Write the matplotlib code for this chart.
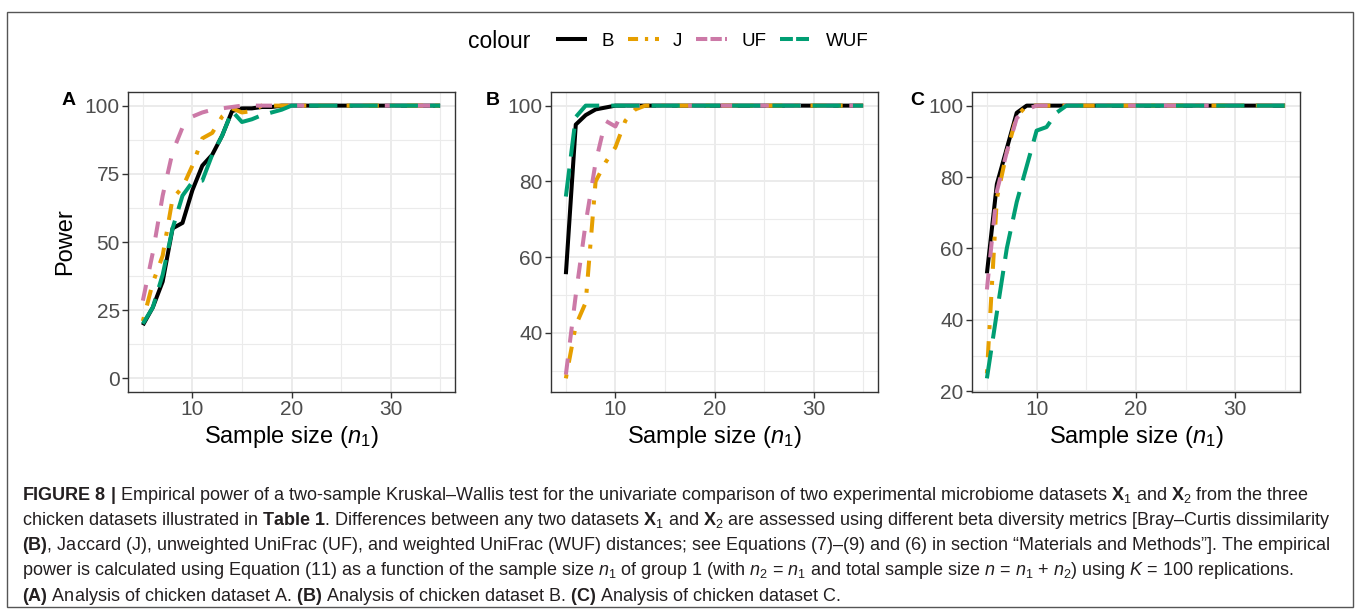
import matplotlib
matplotlib.use("Agg")
import matplotlib.pyplot as plt
from matplotlib import font_manager
from matplotlib.lines import Line2D
from matplotlib.patches import Rectangle

# sample size n1 of group 1
n1 = [5, 6, 7, 8, 9, 10, 11, 12, 13, 14, 15, 16, 17, 18, 19, 20,
      21, 22, 23, 24, 25, 26, 27, 28, 29, 30, 31, 32, 33, 34, 35]

# panel A: chicken dataset A (power, %)
a_B = [19.5, 26, 35.5, 55, 57, 69, 78, 82, 89, 98, 99, 99, 99.5, 99.5, 100, 100,
       100, 100, 100, 100, 100, 100, 100, 100, 100, 100, 100, 100, 100, 100, 100]
a_J = [21, 35, 45, 66, 70, 78, 88, 90, 96, 99, 97.5, 98, 100, 100, 100, 100,
       100, 100, 100, 100, 100, 100, 100, 100, 100, 100, 100, 100, 100, 100, 100]
a_UF = [28.5, 46, 67, 83, 92, 96, 97.5, 98.5, 99, 99.5, 100, 100, 100, 100, 100, 100,
        100, 100, 100, 100, 100, 100, 100, 100, 100, 100, 100, 100, 100, 100, 100]
a_WUF = [20, 26, 38, 55, 67, 72, 72.5, 82, 89, 98, 94, 95, 96.5, 97.5, 98.5, 100,
         100, 100, 100, 100, 100, 100, 100, 100, 100, 100, 100, 100, 100, 100, 100]

# panel B: chicken dataset B
b_B = [55.5, 95, 97.5, 99, 99.5, 100, 100, 100, 100, 100, 100, 100, 100, 100, 100, 100,
       100, 100, 100, 100, 100, 100, 100, 100, 100, 100, 100, 100, 100, 100, 100]
b_J = [28, 42, 48, 80, 85, 89, 96, 99, 100, 100, 100, 100, 100, 100, 100, 100,
       100, 100, 100, 100, 100, 100, 100, 100, 100, 100, 100, 100, 100, 100, 100]
b_UF = [29, 50, 69, 85, 96, 94.5, 100, 100, 100, 100, 100, 100, 100, 100, 100, 100,
        100, 100, 100, 100, 100, 100, 100, 100, 100, 100, 100, 100, 100, 100, 100]
b_WUF = [76, 97, 100, 100, 100, 100, 100, 100, 100, 100, 100, 100, 100, 100, 100, 100,
         100, 100, 100, 100, 100, 100, 100, 100, 100, 100, 100, 100, 100, 100, 100]

# panel C: chicken dataset C
c_B = [53, 78, 88, 98, 100, 100, 100, 100, 100, 100, 100, 100, 100, 100, 100, 100,
       100, 100, 100, 100, 100, 100, 100, 100, 100, 100, 100, 100, 100, 100, 100]
c_J = [25, 74, 87, 97, 100, 100, 100, 100, 100, 100, 100, 100, 100, 100, 100, 100,
       100, 100, 100, 100, 100, 100, 100, 100, 100, 100, 100, 100, 100, 100, 100]
c_UF = [48.5, 76, 87, 96.5, 99, 100, 100, 100, 100, 100, 100, 100, 100, 100, 100, 100,
        100, 100, 100, 100, 100, 100, 100, 100, 100, 100, 100, 100, 100, 100, 100]
c_WUF = [23.6, 42, 60, 73, 83, 93, 94, 98, 100, 100, 100, 100, 100, 100, 100, 100,
         100, 100, 100, 100, 100, 100, 100, 100, 100, 100, 100, 100, 100, 100, 100]

metrics = ["B", "J", "UF", "WUF"]

COLOURS = {"B": "#000000", "J": "#E69F00", "UF": "#CC79A7", "WUF": "#009E73"}
# ggplot linetypes: solid, dotdash, dashed, longdash
DASHES = {"B": "-", "J": (0, (1, 3, 4, 3)), "UF": (0, (4, 4)), "WUF": (0, (7, 3))}
# legend keys are drawn shorter, starting on a dash
KEY_DASHES = {"B": "-", "J": (0, (2.5, 1.7, 0.8, 1.7)), "UF": (0, (2.8, 0.8)),
              "WUF": (0, (3.2, 0.8))}
LW = 2.9

W, H = 1360, 610


def fig_box(left, top, right, bottom):
    return [left / W, 1 - bottom / H, (right - left) / W, (bottom - top) / H]


have = {f.name for f in font_manager.fontManager.ttflist}
CAP_FONT = "Liberation Sans Narrow" if "Liberation Sans Narrow" in have else "Liberation Sans"

plt.rcParams["font.family"] = ["Liberation Sans", "DejaVu Sans"]
plt.rcParams["mathtext.fontset"] = "custom"
plt.rcParams["mathtext.rm"] = CAP_FONT
plt.rcParams["mathtext.it"] = CAP_FONT + ":italic"
plt.rcParams["mathtext.bf"] = CAP_FONT + ":bold"


def line_kw(m, dashes=DASHES):
    return dict(color=COLOURS[m], linestyle=dashes[m], lw=LW,
                solid_capstyle="butt", dash_capstyle="butt",
                solid_joinstyle="round", dash_joinstyle="round")


def draw_panel(ax, series, ylim, yticks, yminor):
    for m in metrics:
        ax.plot(n1, series[m], **line_kw(m))
    ax.set_xlim(3.5, 36.5)
    ax.set_ylim(*ylim)
    ax.set_xticks([10, 20, 30])
    ax.set_xticks([5, 15, 25, 35], minor=True)
    ax.set_yticks(yticks)
    ax.set_yticks(yminor, minor=True)
    ax.grid(which="major", color="#EBEBEB", lw=1.4)
    ax.grid(which="minor", color="#EBEBEB", lw=0.8)
    ax.set_axisbelow(True)
    ax.tick_params(which="minor", length=0)
    ax.tick_params(which="major", length=4, width=1, color="#333333",
                   labelcolor="#4D4D4D", labelsize=15, pad=2)
    for s in ax.spines.values():
        s.set_color("#333333")
        s.set_linewidth(1.0)
    ax.set_xlabel("Sample size ($n_1$)", fontsize=17, labelpad=3)


def main():
    fig = plt.figure(figsize=(W / 100, H / 100), dpi=100)

    panels = [
        ("A", fig_box(128, 92, 455, 392), {"B": a_B, "J": a_J, "UF": a_UF, "WUF": a_WUF},
         (-5, 105), [0, 25, 50, 75, 100], [12.5, 37.5, 62.5, 87.5], 62),
        ("B", fig_box(551, 92, 878, 392), {"B": b_B, "J": b_J, "UF": b_UF, "WUF": b_WUF},
         None, [40, 60, 80, 100], [30, 50, 70, 90], 486),
        ("C", fig_box(972, 92, 1300, 392), {"B": c_B, "J": c_J, "UF": c_UF, "WUF": c_WUF},
         None, [20, 40, 60, 80, 100], [30, 50, 70, 90], 910),
    ]
    for letter, box, series, ylim, yticks, yminor, lx in panels:
        ax = fig.add_axes(box)
        if ylim is None:
            lo = min(min(v) for v in series.values())
            hi = max(max(v) for v in series.values())
            pad = 0.05 * (hi - lo)
            ylim = (lo - pad, hi + pad)
        draw_panel(ax, series, ylim, yticks, yminor)
        if letter == "A":
            ax.set_ylabel("Power", fontsize=17, labelpad=6)
        fig.text(lx / W, 1 - 101 / H, letter, fontsize=14, fontweight="bold",
                 ha="left", va="center")

    # legend across the top
    fig.text(468 / W, 1 - 42 / H, "colour", fontsize=16.5, ha="left", va="center")
    handles = [Line2D([], [], **line_kw(m, KEY_DASHES)) for m in metrics]
    fig.legend(handles, metrics, ncol=4, loc="center left",
               bbox_to_anchor=(547 / W, 1 - 41 / H), frameon=False, fontsize=13.5,
               handlelength=1.65, handletextpad=0.75, columnspacing=0.75, borderpad=0)

    # figure caption
    cap = [
        r"$\mathbf{FIGURE\ 8\ |}$ Empirical power of a two-sample Kruskal–Wallis test for the univariate "
        r"comparison of two experimental microbiome datasets $\mathbf{X}_1$ and $\mathbf{X}_2$ from the three",
        r"chicken datasets illustrated in $\mathbf{Table\ 1}$. Differences between any two datasets "
        r"$\mathbf{X}_1$ and $\mathbf{X}_2$ are assessed using different beta diversity metrics [Bray–Curtis dissimilarity",
        r"$\mathbf{(B)}$, Jaccard (J), unweighted UniFrac (UF), and weighted UniFrac (WUF) distances; "
        r"see Equations (7)–(9) and (6) in section “Materials and Methods”]. The empirical",
        r"power is calculated using Equation (11) as a function of the sample size $n_1$ of group 1 "
        r"(with $n_2$ = $n_1$ and total sample size $n$ = $n_1$ + $n_2$) using $K$ = 100 replications.",
        r"$\mathbf{(A)}$ Analysis of chicken dataset A. $\mathbf{(B)}$ Analysis of chicken dataset B. "
        r"$\mathbf{(C)}$ Analysis of chicken dataset C.",
    ]
    for i, line in enumerate(cap):
        fig.text(22 / W, 1 - (495 + i * 25.3) / H, line, family=CAP_FONT, fontsize=13,
                 ha="left", va="center", color="#231F20")

    fig.patches.append(Rectangle((7 / W, 3 / H), 1346 / W, 595 / H, transform=fig.transFigure,
                                 fill=False, edgecolor="#555555", lw=1))

    fig.savefig("out.png", dpi=100)
    plt.close(fig)


if __name__ == "__main__":
    main()
